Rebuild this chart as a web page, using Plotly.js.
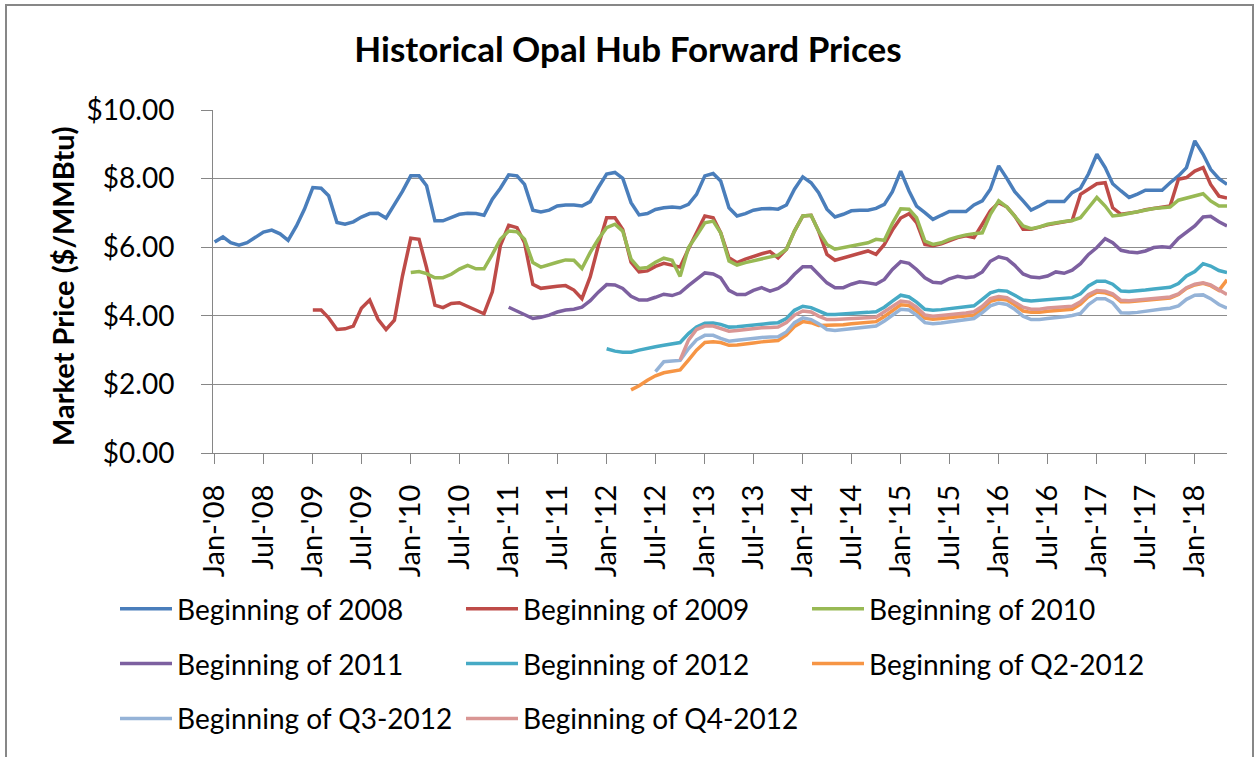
<!DOCTYPE html>
<html>
<head>
<meta charset="utf-8">
<script src="https://cdn.plot.ly/plotly-3.0.1.min.js"></script>
<style>
  html, body { margin: 0; padding: 0; background: #ffffff; }
  #chart { width: 1256px; height: 757px; }
</style>
</head>
<body>
<div id="chart"></div>
<script>
// ---------- DATA (monthly forward prices, $/MMBtu) ----------
const seriesNames = [
  "Beginning of 2008", "Beginning of 2009", "Beginning of 2010",
  "Beginning of 2011", "Beginning of 2012", "Beginning of Q2-2012",
  "Beginning of Q3-2012", "Beginning of Q4-2012"
];
// first contract month of each curve (year, month 1-12)
const startMonths = [[2008,1],[2009,1],[2010,1],[2011,1],[2012,1],[2012,4],[2012,7],[2012,10]];

const curve2008 = [6.15,6.30,6.13,6.06,6.13,6.30,6.44,6.50,6.39,6.20,
  6.62,7.11,7.74,7.72,7.50,6.72,6.67,6.74,6.88,6.98,
  6.99,6.85,7.24,7.63,8.08,8.08,7.79,6.77,6.77,6.86,
  6.96,6.99,6.98,6.93,7.40,7.72,8.11,8.08,7.83,7.08,
  7.03,7.08,7.20,7.23,7.23,7.20,7.33,7.74,8.13,8.18,
  8.01,7.30,6.94,6.98,7.10,7.15,7.17,7.15,7.25,7.54,
  8.08,8.15,7.93,7.15,6.91,6.98,7.08,7.12,7.13,7.11,
  7.23,7.69,8.05,7.88,7.59,7.11,6.88,6.96,7.06,7.08,
  7.08,7.13,7.25,7.62,8.22,7.64,7.20,7.01,6.81,6.93,
  7.04,7.04,7.04,7.23,7.35,7.69,8.37,8.00,7.62,7.35,
  7.08,7.20,7.33,7.33,7.33,7.59,7.72,8.14,8.71,8.32,
  7.85,7.64,7.45,7.55,7.66,7.66,7.66,7.88,8.08,8.32,
  9.10,8.71,8.27,8.00,7.83];

const curve2009 = [4.17,4.17,3.94,3.60,3.62,3.70,4.22,4.46,
  3.90,3.60,3.87,5.16,6.26,6.23,5.40,4.31,4.24,4.36,
  4.38,4.28,4.17,4.06,4.70,6.05,6.64,6.57,6.13,4.92,
  4.80,4.84,4.86,4.88,4.75,4.50,5.14,6.04,6.86,6.86,
  6.52,5.56,5.28,5.31,5.44,5.53,5.47,5.42,5.95,6.43,
  6.91,6.86,6.42,5.69,5.55,5.65,5.74,5.81,5.87,5.69,
  5.94,6.47,6.91,6.93,6.47,5.79,5.62,5.69,5.77,5.84,
  5.89,5.79,6.08,6.50,6.85,6.98,6.72,6.08,6.04,6.10,
  6.20,6.28,6.33,6.28,6.67,7.06,7.30,7.17,6.91,6.52,
  6.52,6.59,6.65,6.70,6.75,6.78,7.54,7.69,7.85,7.88,
  7.15,6.96,6.99,7.03,7.09,7.13,7.17,7.20,7.98,8.03,
  8.22,8.32,7.83,7.49,7.43];

const curve2010 = [5.26,5.29,5.23,5.11,5.11,5.21,
  5.36,5.47,5.37,5.37,5.79,6.23,6.47,6.45,6.23,5.55,
  5.42,5.48,5.56,5.63,5.62,5.38,5.85,6.23,6.57,6.67,
  6.47,5.65,5.38,5.41,5.56,5.68,5.62,5.15,5.99,6.33,
  6.71,6.76,6.42,5.60,5.48,5.55,5.60,5.65,5.71,5.77,
  5.94,6.47,6.91,6.93,6.47,6.08,5.94,5.99,6.04,6.08,
  6.13,6.23,6.20,6.70,7.12,7.11,6.86,6.18,6.08,6.13,
  6.23,6.30,6.36,6.39,6.42,6.96,7.35,7.17,6.91,6.62,
  6.54,6.59,6.67,6.72,6.75,6.78,6.86,7.15,7.45,7.20,
  6.91,6.94,6.99,7.03,7.09,7.13,7.15,7.17,7.37,7.43,
  7.49,7.56,7.35,7.20,7.20];

const curve2011 = [4.25,4.14,4.04,3.92,
  3.96,4.02,4.11,4.17,4.19,4.25,4.44,4.69,4.91,4.90,
  4.80,4.57,4.46,4.46,4.54,4.63,4.59,4.67,4.88,5.07,
  5.25,5.22,5.11,4.74,4.62,4.62,4.74,4.82,4.72,4.80,
  4.96,5.21,5.43,5.43,5.21,4.96,4.82,4.82,4.92,4.99,
  4.96,4.92,5.06,5.35,5.58,5.53,5.35,5.11,4.98,4.96,
  5.08,5.15,5.11,5.14,5.28,5.59,5.72,5.66,5.47,5.22,
  5.13,5.11,5.16,5.28,5.24,5.33,5.52,5.79,5.99,6.25,
  6.13,5.91,5.86,5.84,5.89,5.99,6.01,5.99,6.26,6.45,
  6.62,6.88,6.90,6.74,6.62];

const curve2012 = [3.04,2.97,
  2.94,2.94,3.00,3.06,3.10,3.14,3.17,3.22,3.48,3.67,
  3.78,3.79,3.75,3.67,3.68,3.71,3.74,3.77,3.78,3.80,
  3.92,4.16,4.28,4.24,4.14,4.04,4.04,4.05,4.07,4.09,
  4.10,4.12,4.25,4.43,4.60,4.55,4.40,4.19,4.16,4.18,
  4.21,4.24,4.25,4.29,4.48,4.67,4.74,4.72,4.60,4.46,
  4.43,4.45,4.48,4.51,4.52,4.53,4.64,4.87,5.01,5.01,
  4.92,4.72,4.71,4.72,4.75,4.78,4.81,4.83,4.94,5.16,
  5.29,5.52,5.45,5.32,5.26];

const curveQ2_2012 = [1.84,1.96,2.12,2.25,2.34,2.39,2.42,2.71,3.00,
  3.22,3.24,3.22,3.14,3.15,3.17,3.21,3.24,3.26,3.28,
  3.44,3.69,3.83,3.80,3.72,3.72,3.72,3.74,3.77,3.79,
  3.81,3.83,3.98,4.15,4.32,4.30,4.14,3.93,3.90,3.92,
  3.94,3.96,3.98,4.02,4.20,4.42,4.49,4.46,4.32,4.14,
  4.10,4.10,4.13,4.15,4.17,4.19,4.34,4.56,4.69,4.67,
  4.60,4.41,4.41,4.43,4.45,4.47,4.50,4.52,4.62,4.80,
  4.90,4.95,4.88,4.74,5.05];

const curveQ3_2012 = [2.37,2.66,2.68,2.70,3.04,3.30,
  3.43,3.43,3.34,3.26,3.29,3.32,3.35,3.37,3.38,3.39,
  3.53,3.80,3.94,3.89,3.77,3.60,3.57,3.60,3.63,3.65,
  3.67,3.70,3.85,4.02,4.19,4.17,4.02,3.80,3.77,3.79,
  3.82,3.85,3.88,3.92,4.09,4.29,4.37,4.33,4.19,3.99,
  3.89,3.89,3.92,3.94,3.97,4.01,4.07,4.33,4.50,4.50,
  4.38,4.09,4.08,4.10,4.14,4.18,4.20,4.22,4.29,4.48,
  4.60,4.61,4.50,4.33,4.22];

const curveQ4_2012 = [2.71,3.29,3.60,
  3.70,3.70,3.63,3.55,3.57,3.60,3.63,3.65,3.66,3.67,
  3.80,4.02,4.14,4.11,3.99,3.89,3.89,3.90,3.93,3.94,
  3.95,3.96,4.12,4.28,4.43,4.40,4.25,4.02,3.99,4.01,
  4.03,4.06,4.08,4.12,4.28,4.50,4.56,4.53,4.40,4.25,
  4.19,4.19,4.23,4.25,4.26,4.28,4.41,4.62,4.74,4.72,
  4.64,4.45,4.44,4.46,4.48,4.50,4.53,4.55,4.64,4.82,
  4.92,4.96,4.90,4.77,4.62];

const tickDates = ["2008-01-01","2008-07-01","2009-01-01","2009-07-01","2010-01-01","2010-07-01",
  "2011-01-01","2011-07-01","2012-01-01","2012-07-01","2013-01-01","2013-07-01","2014-01-01",
  "2014-07-01","2015-01-01","2015-07-01","2016-01-01","2016-07-01","2017-01-01","2017-07-01","2018-01-01"];
const tickLabels = ["Jan-'08","Jul-'08","Jan-'09","Jul-'09","Jan-'10","Jul-'10","Jan-'11","Jul-'11",
  "Jan-'12","Jul-'12","Jan-'13","Jul-'13","Jan-'14","Jul-'14","Jan-'15","Jul-'15","Jan-'16",
  "Jul-'16","Jan-'17","Jul-'17","Jan-'18"];
const yTitleText = "Market Price ($/MMBtu)";
const chartTitleText = "Historical Opal Hub Forward Prices";

// ---------- STYLE ----------
const colors = ["#4A7EBB","#BE4B48","#98B954","#7D60A0","#46AAC5","#F69545","#95B3D7","#D99694"];
// legend columns: col 1 = legend, col 2 = legend2, col 3 = legend3
const legendOf = ["legend","legend2","legend3","legend","legend2","legend3","legend","legend2"];
const allCurves = [curve2008, curve2009, curve2010, curve2011, curve2012, curveQ2_2012, curveQ3_2012, curveQ4_2012];

function monthDates(startYM, n) {
  const out = [];
  let y = startYM[0], m = startYM[1];
  for (let i = 0; i < n; i++) {
    out.push(y + "-" + String(m).padStart(2, "0") + "-01");
    m++; if (m > 12) { m = 1; y++; }
  }
  return out;
}

const traces = allCurves.map((vals, i) => ({
  type: "scatter",
  mode: "lines",
  name: seriesNames[i],
  legendgroup: "g" + i,
  x: monthDates(startMonths[i], vals.length),
  y: vals,
  line: { color: colors[i], width: 3.5, shape: "linear" },
  legend: legendOf[i],
  hoverinfo: "x+y+name"
}));

const FONT = "Lato, 'Open Sans', 'Liberation Sans', sans-serif";
const L = 213, R = 29, T = 110, B = 304;
const PW = 1256 - L - R, PH = 757 - T - B;
const px2paperX = px => (px - L) / PW;
const px2paperY = py => (757 - B - py) / PH;

const legendBase = {
  orientation: "v",
  xref: "container", yref: "container",
  xanchor: "left", yanchor: "top",
  y: 1 - 584 / 757,
  itemwidth: 52,
  tracegroupgap: 15.5,
  font: { family: FONT, size: 28, color: "#000" },
  bgcolor: "rgba(0,0,0,0)",
  borderwidth: 0,
  traceorder: "grouped",
  itemclick: false, itemdoubleclick: false
};

const layout = {
  width: 1256, height: 757,
  margin: { l: L, r: R, t: T, b: B, pad: 0, autoexpand: false },
  paper_bgcolor: "#ffffff",
  plot_bgcolor: "#ffffff",
  font: { family: FONT, color: "#000" },
  title: {
    text: "<b>" + chartTitleText + "</b>",
    x: 0.5, xref: "container", xanchor: "center",
    y: 1 - 50 / 757, yref: "container", yanchor: "middle",
    font: { family: FONT, size: 35, color: "#000" }
  },
  xaxis: {
    type: "date",
    range: ["2007-12-26", "2018-05-01"],
    tickmode: "array",
    tickvals: tickDates,
    ticktext: tickLabels,
    tickangle: -90,
    ticks: "outside", ticklen: 10, tickcolor: "#868686", tickwidth: 1,
    ticklabelstandoff: 9,
    showgrid: false,
    showline: true, linecolor: "#868686", linewidth: 1,
    zeroline: false,
    tickfont: { family: FONT, size: 29, color: "#000" },
    fixedrange: true
  },
  yaxis: {
    range: [0, 10],
    tick0: 0, dtick: 2,
    tickprefix: "$", tickformat: ".2f",
    ticks: "outside", ticklen: 11, tickcolor: "#868686", tickwidth: 1,
    ticklabelstandoff: 21,
    showgrid: true, gridcolor: "#8c8c8c", gridwidth: 1,
    showline: true, linecolor: "#868686", linewidth: 1,
    zeroline: false,
    tickfont: { family: FONT, size: 28, color: "#000" },
    fixedrange: true
  },
  annotations: [{
    text: "<b>" + yTitleText + "</b>",
    xref: "paper", yref: "paper",
    x: px2paperX(62), y: px2paperY(287),
    xanchor: "center", yanchor: "middle",
    textangle: -90,
    showarrow: false,
    font: { family: FONT, size: 29, color: "#000" }
  }],
  legend: Object.assign({}, legendBase, { x: 115 / 1256 }),
  legend2: Object.assign({}, legendBase, { x: 461 / 1256 }),
  legend3: Object.assign({}, legendBase, { x: 807 / 1256 }),
  showlegend: true,
  shapes: [{
    type: "rect", xref: "paper", yref: "paper",
    x0: px2paperX(6), x1: px2paperX(1253),
    y0: px2paperY(765), y1: px2paperY(5),
    line: { color: "#878787", width: 2 },
    fillcolor: "rgba(0,0,0,0)",
    layer: "below"
  }]
};

Plotly.newPlot("chart", traces, layout, { displayModeBar: false, staticPlot: true });
</script>
</body>
</html>
